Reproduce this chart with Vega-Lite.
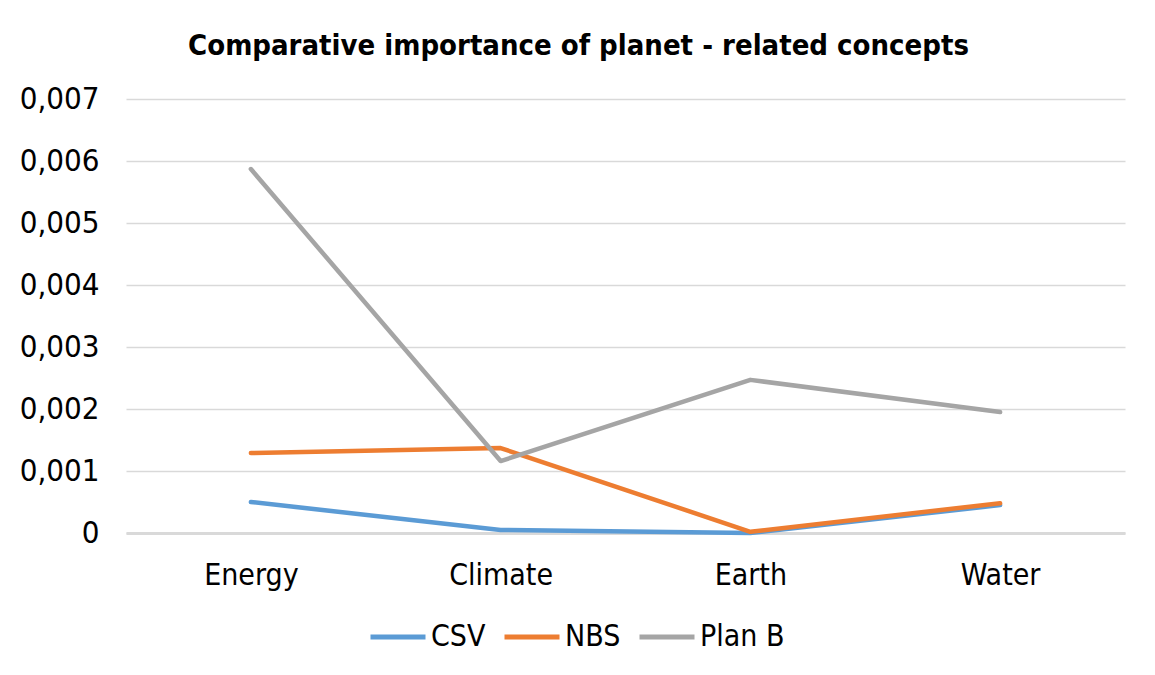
{
  "$schema": "https://vega.github.io/schema/vega-lite/v6.json",
  "width": 999,
  "height": 434,
  "autosize": {"type": "none"},
  "padding": {"left": 126, "top": 99, "right": 30, "bottom": 142},
  "background": "white",
  "title": {
    "text": "Comparative importance of planet - related concepts",
    "font": "DejaVu Sans Condensed",
    "fontSize": 29,
    "fontWeight": "bold",
    "color": "#000000",
    "anchor": "middle",
    "dx": -47,
    "offset": 22
  },
  "data": {
    "values": [
      {"concept": "Energy", "series": "CSV", "value": 0.0005},
      {"concept": "Climate", "series": "CSV", "value": 0.00005},
      {"concept": "Earth", "series": "CSV", "value": 0.0},
      {"concept": "Water", "series": "CSV", "value": 0.00045},
      {"concept": "Energy", "series": "NBS", "value": 0.00129},
      {"concept": "Climate", "series": "NBS", "value": 0.00137},
      {"concept": "Earth", "series": "NBS", "value": 0.00002},
      {"concept": "Water", "series": "NBS", "value": 0.00048},
      {"concept": "Energy", "series": "Plan B", "value": 0.00587},
      {"concept": "Climate", "series": "Plan B", "value": 0.00116},
      {"concept": "Earth", "series": "Plan B", "value": 0.00247},
      {"concept": "Water", "series": "Plan B", "value": 0.00195}
    ]
  },
  "mark": {"type": "line", "strokeWidth": 4.5, "strokeCap": "round", "strokeJoin": "round"},
  "encoding": {
    "x": {
      "field": "concept",
      "type": "nominal",
      "sort": ["Energy", "Climate", "Earth", "Water"],
      "scale": {"type": "point", "padding": 0.5},
      "axis": {
        "title": null,
        "labelAngle": 0,
        "labelFont": "DejaVu Sans Condensed",
        "labelFontSize": 30,
        "labelColor": "#000000",
        "labelPadding": 27,
        "ticks": false,
        "domainColor": "#D9D9D9",
        "domainWidth": 3,
        "grid": false
      }
    },
    "y": {
      "field": "value",
      "type": "quantitative",
      "scale": {"domain": [0, 0.007], "nice": false},
      "axis": {
        "title": null,
        "values": [0, 0.001, 0.002, 0.003, 0.004, 0.005, 0.006, 0.007],
        "labelExpr": "datum.value == 0 ? '0' : replace(format(datum.value, '.3f'), '.', ',')",
        "labelFont": "DejaVu Sans Condensed",
        "labelFontSize": 31,
        "labelColor": "#000000",
        "labelPadding": 27,
        "ticks": false,
        "domain": false,
        "grid": true,
        "gridColor": "#D9D9D9",
        "gridWidth": 1.5
      }
    },
    "color": {
      "field": "series",
      "type": "nominal",
      "scale": {"domain": ["CSV", "NBS", "Plan B"], "range": ["#5B9BD5", "#ED7D31", "#A5A5A5"]},
      "legend": {
        "title": null,
        "orient": "none",
        "direction": "horizontal",
        "legendX": 242,
        "legendY": 508,
        "symbolType": "stroke",
        "symbolSize": 3025,
        "symbolStrokeWidth": 5,
        "labelFont": "DejaVu Sans Condensed",
        "labelFontSize": 30,
        "labelColor": "#000000",
        "labelOffset": 3,
        "columnPadding": 8
      }
    }
  },
  "config": {"view": {"stroke": null}}
}
